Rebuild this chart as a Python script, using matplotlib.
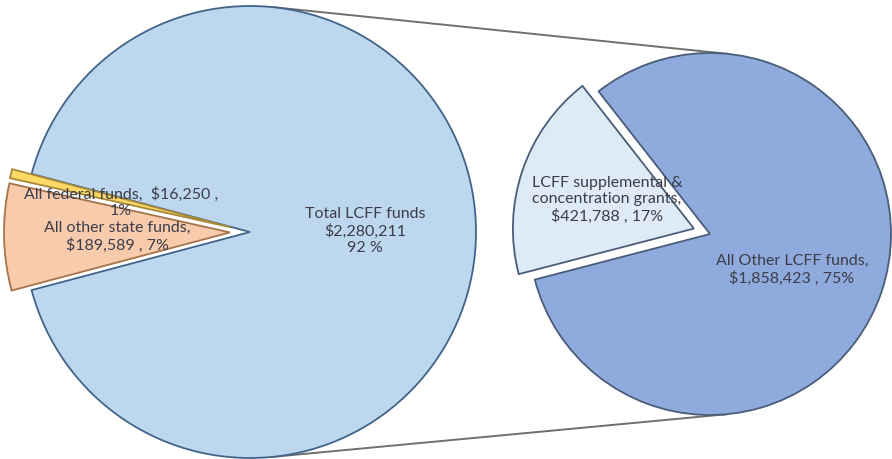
import numpy as np
import matplotlib.pyplot as plt

# data (dollars)
total_names = ["Total LCFF funds", "All federal funds", "All other state funds"]
total_values = [2280211, 16250, 189589]
lcff_names = ["LCFF supplemental & concentration grants", "All Other LCFF funds"]
lcff_values = [421788, 1858423]

total_labels = ["Total LCFF funds\n$2,280,211\n92 %",
                "All federal funds,  $16,250 ,\n1%",
                "All other state funds,\n$189,589 , 7%"]
lcff_labels = ["LCFF supplemental &\nconcentration grants,\n$421,788 , 17%",
               "All Other LCFF funds,\n$1,858,423 , 75%"]

plt.rcParams['font.family'] = ['Lato', 'DejaVu Sans']

W, H = 892, 460
fig = plt.figure(figsize=(W / 100, H / 100), dpi=100)
ax = fig.add_axes([0, 0, 1, 1])

# layout in pixel units (y measured from the top of the picture)
c1, r1 = np.array([250.0, H - 233.0]), 226.0
c2, r2 = np.array([710.0, H - 235.0]), 181.0


def tangent_points(ca, ra, cb, rb, side):
    d = cb - ca
    dist = np.hypot(*d)
    u = d / dist
    k = (ra - rb) / dist
    perp = np.array([-u[1], u[0]])
    n = k * u + side * np.sqrt(1 - k ** 2) * perp
    return ca + ra * n, cb + rb * n


# connector lines between the two pies
for side in (1, -1):
    p, q = tangent_points(c1, r1, c2, r2, side)
    ax.plot([p[0], q[0]], [p[1], q[1]], color='#6f6f6f', lw=1.4, zorder=1,
            solid_capstyle='round')

# left pie: the small slices are pulled out to the left
tot = sum(total_values)
small = total_values[1] + total_values[2]
start1 = 180 + 180 * small / tot
w1, _ = ax.pie(total_values, center=tuple(c1), radius=r1, startangle=start1,
               explode=[0, 20, 20],
               colors=['#BDD7EE', '#FFD966', '#F8CBAD'],
               wedgeprops=dict(linewidth=1.3))
for w, ec in zip(w1, ['#41648a', '#a88a3a', '#a5744a']):
    w.set_edgecolor(ec)
    w.set_zorder(2)

# right pie: breakdown of Total LCFF funds
start2 = 128
w2, _ = ax.pie(lcff_values, center=tuple(c2), radius=r2, startangle=start2,
               explode=[17, 0],
               colors=['#DEEBF7', '#8FAADC'],
               wedgeprops=dict(linewidth=1.3))
for w in w2:
    w.set_edgecolor('#4a5d78')
    w.set_zorder(2)

txt = dict(ha='center', va='center', color='#3d3d4a', fontsize=11.5,
           linespacing=1.2, zorder=5)
ax.text(365, H - 231, total_labels[0], **txt)
ax.text(121, H - 202, total_labels[1], **txt)
ax.text(117, H - 237, total_labels[2], **txt)
ax.text(607, H - 200, lcff_labels[0], **txt)
ax.text(792, H - 270, lcff_labels[1], **txt)

ax.set_xlim(0, W)
ax.set_ylim(0, H)
ax.set_aspect('equal')
ax.axis('off')

fig.savefig('out.png', dpi=100, facecolor='white')
